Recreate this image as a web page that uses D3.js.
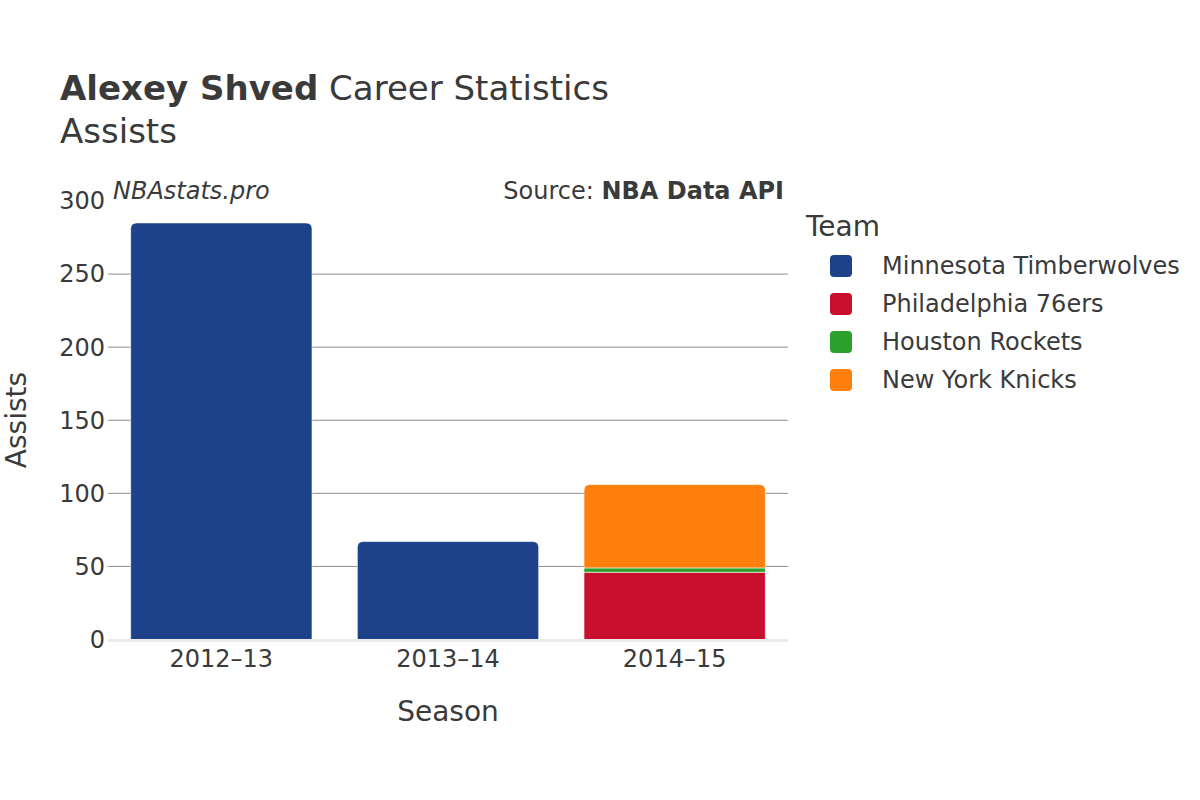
<!DOCTYPE html>
<html><head><meta charset="utf-8">
<script src="https://cdn.jsdelivr.net/npm/d3@7"></script>
<style>body{margin:0;background:#fff}svg{font-family:"DejaVu Sans",sans-serif}</style>
</head><body>
<svg id="c" width="1200" height="800"></svg>
<script>
const seasons = ["2012–13", "2013–14", "2014–15"];
const teams = ["Minnesota Timberwolves", "Philadelphia 76ers", "Houston Rockets", "New York Knicks"];
const teamColors = ["#1d428a", "#c8102e", "#2ca02c", "#ff7f0e"];
const minnesota = [285, 67, 0];
const philadelphia = [0, 0, 46];
const houston = [0, 0, 3];
const newyork = [0, 0, 57];
const yTicks = [0, 50, 100, 150, 200, 250, 300];

const seriesVals = [minnesota, philadelphia, houston, newyork];
const svg = d3.select("#c");
const textColor = "#3a3a3a";
const x0 = 108, x1 = 788, yTop = 201, yBot = 639.5;

const x = d3.scaleBand().domain(seasons).range([x0, x1]).paddingInner(0.2).paddingOuter(0.1);
const y = d3.scaleLinear().domain([0, 300]).range([yBot, yTop]);

// grid
svg.append("g").selectAll("line").data(yTicks.filter(t => t > 0 && t < 300)).join("line")
  .attr("x1", x0).attr("x2", x1).attr("y1", d => y(d)).attr("y2", d => y(d))
  .attr("stroke", "#8c8c8c").attr("stroke-width", 1);

// bars
const rows = seasons.map((s, i) => {
  const o = {season: s};
  teams.forEach((t, j) => o[t] = seriesVals[j][i]);
  return o;
});
const stacked = d3.stack().keys(teams)(rows);
const r = 6;
function barPath(xL, w, yT, yB, round) {
  if (!round) return `M${xL},${yB}V${yT}H${xL + w}V${yB}Z`;
  const rr = Math.min(r, (yB - yT));
  return `M${xL},${yB}V${yT + rr}Q${xL},${yT} ${xL + rr},${yT}H${xL + w - rr}Q${xL + w},${yT} ${xL + w},${yT + rr}V${yB}Z`;
}
stacked.forEach((layer, j) => {
  svg.append("g").selectAll("path").data(layer.filter(d => d[1] - d[0] > 0)).join("path")
    .attr("d", d => {
      const i = seasons.indexOf(d.data.season);
      let top = true;
      for (let k = j + 1; k < teams.length; k++) if (seriesVals[k][i] > 0) top = false;
      return barPath(x(d.data.season), x.bandwidth(), y(d[1]), y(d[0]), top);
    })
    .attr("fill", teamColors[j])
    .attr("stroke", "#fff").attr("stroke-width", 0.6);
});

// zero line
svg.append("line").attr("x1", x0).attr("x2", x1).attr("y1", yBot + 1).attr("y2", yBot + 1)
  .attr("stroke", "#ebebeb").attr("stroke-width", 3);

// y tick labels
svg.append("g").selectAll("text").data(yTicks).join("text")
  .attr("x", 105).attr("y", d => y(d)).attr("dy", "0.35em").attr("text-anchor", "end")
  .attr("font-size", 24).attr("fill", textColor).text(d => d);

// x tick labels
svg.append("g").selectAll("text").data(seasons).join("text")
  .attr("x", d => x(d) + x.bandwidth() / 2).attr("y", 667).attr("text-anchor", "middle")
  .attr("font-size", 24).attr("fill", textColor).text(d => d);

// axis titles
svg.append("text").attr("x", 448).attr("y", 721).attr("text-anchor", "middle")
  .attr("font-size", 28).attr("fill", textColor).text("Season");
svg.append("text").attr("transform", "translate(26,420) rotate(-90)").attr("text-anchor", "middle")
  .attr("font-size", 28).attr("fill", textColor).text("Assists");

// title
const t = svg.append("text").attr("x", 60).attr("y", 100).attr("font-size", 34).attr("fill", textColor);
t.append("tspan").attr("font-weight", "bold").text("Alexey Shved");
t.append("tspan").text(" Career Statistics");
svg.append("text").attr("x", 60).attr("y", 143).attr("font-size", 34).attr("fill", textColor).text("Assists");

// watermark / source
svg.append("text").attr("x", 113).attr("y", 199).attr("font-size", 24).attr("font-style", "italic")
  .attr("fill", textColor).text("NBAstats.pro");
const src = svg.append("text").attr("x", 784).attr("y", 199).attr("text-anchor", "end")
  .attr("font-size", 24).attr("fill", textColor);
src.append("tspan").text("Source: ");
src.append("tspan").attr("font-weight", "bold").text("NBA Data API");

// legend
svg.append("text").attr("x", 806).attr("y", 236).attr("font-size", 28).attr("fill", textColor).text("Team");
const lg = svg.append("g").selectAll("g").data(teams).join("g")
  .attr("transform", (d, i) => `translate(830,${266 + i * 38})`);
lg.append("rect").attr("x", 0).attr("y", -11).attr("width", 22).attr("height", 22).attr("rx", 4)
  .attr("fill", (d, i) => teamColors[i]);
lg.append("text").attr("x", 52).attr("y", 0).attr("dy", "0.35em").attr("font-size", 24)
  .attr("fill", textColor).text(d => d);
</script>
</body></html>
